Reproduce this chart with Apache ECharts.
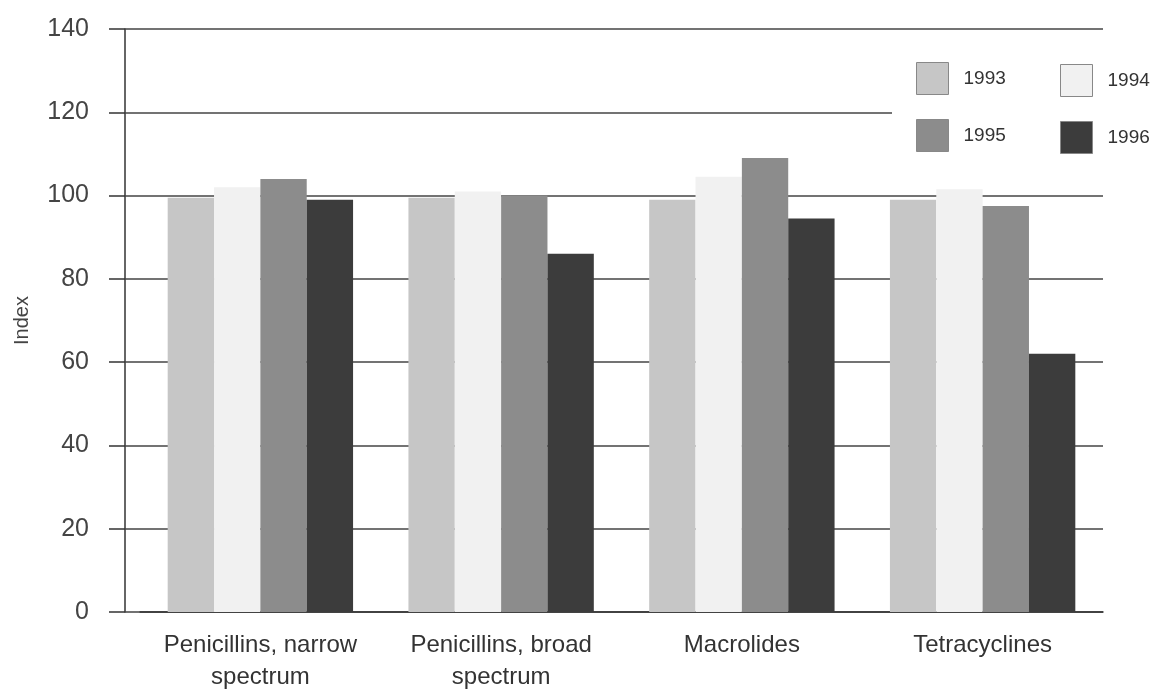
<!DOCTYPE html>
<html>
<head>
<meta charset="utf-8">
<script src="https://cdn.jsdelivr.net/npm/echarts@6/dist/echarts.min.js"></script>
<style>
html,body{margin:0;padding:0;background:#fff;}
#chart{width:1151px;height:689px;}
</style>
</head>
<body>
<div id="chart"></div>
<script>
const categories = ['Penicillins, narrow\nspectrum', 'Penicillins, broad\nspectrum', 'Macrolides', 'Tetracyclines'];
const years = ['1993', '1994', '1995', '1996'];
const v1993 = [99.5, 99.5, 99, 99];
const v1994 = [102, 101, 104.5, 101.5];
const v1995 = [104, 100, 109, 97.5];
const v1996 = [99, 86, 94.5, 62];
const yTicks = [0, 20, 40, 60, 80, 100, 120, 140];

const colors = ['#c6c6c6', '#f1f1f1', '#8c8c8c', '#3c3c3c'];
const values = [v1993, v1994, v1995, v1996];
const font = '"Liberation Sans", Arial, sans-serif';

const legendCommon = {
  orient: 'vertical', z: 20, padding: 0,
  icon: 'rect', itemWidth: 32, itemHeight: 32, itemGap: 24,
  textStyle: { fontSize: 19, color: '#333', fontFamily: font, padding: [0, 0, 0, 10] },
  itemStyle: { borderColor: '#888', borderWidth: 1 }
};

const chart = echarts.init(document.getElementById('chart'));
chart.setOption({
  animation: false,
  backgroundColor: '#fff',
  textStyle: { fontFamily: font },
  grid: { left: 140, right: 48, top: 29, bottom: 77, containLabel: false, outerBoundsMode: 'none' },
  graphic: [{
    type: 'rect', z: 10,
    shape: { x: 892, y: 52, width: 259, height: 110 },
    style: { fill: '#fff' }
  }],
  legend: [
    Object.assign({ data: [years[0], years[2]], left: 916, top: 62 }, legendCommon),
    Object.assign({ data: [years[1], years[3]], left: 1060, top: 64 }, legendCommon)
  ],
  xAxis: {
    type: 'category',
    data: categories,
    axisLine: { show: true, lineStyle: { color: '#333', width: 1.5 } },
    axisTick: { show: false },
    axisLabel: { interval: 0, hideOverlap: false, fontSize: 24, color: '#333', margin: 17, lineHeight: 32, fontFamily: font }
  },
  yAxis: [
    {
      type: 'value', position: 'left', offset: 15,
      min: yTicks[0], max: yTicks[yTicks.length - 1], interval: 20,
      name: 'Index', nameLocation: 'middle', nameGap: 93,
      nameTextStyle: { fontSize: 20, color: '#444', fontFamily: font },
      axisLine: { show: true, lineStyle: { color: '#333', width: 1.5 } },
      axisTick: { show: true, length: 16, lineStyle: { color: '#333', width: 1.5 } },
      axisLabel: { fontSize: 25, color: '#444', margin: 36, fontFamily: font },
      splitLine: { show: true, lineStyle: { color: '#444', width: 1.5 } }
    },
    {
      type: 'value', position: 'left', offset: 15,
      min: yTicks[0], max: yTicks[yTicks.length - 1], interval: 20,
      axisLine: { show: false },
      axisTick: { show: true, inside: true, length: 15, lineStyle: { color: '#444', width: 1.5 } },
      axisLabel: { show: false },
      splitLine: { show: false }
    }
  ],
  series: years.map((y, i) => ({
    name: y,
    type: 'bar',
    yAxisIndex: 0,
    data: values[i],
    barGap: '0%',
    barCategoryGap: '23%',
    itemStyle: { color: colors[i] }
  }))
});
</script>
</body>
</html>
